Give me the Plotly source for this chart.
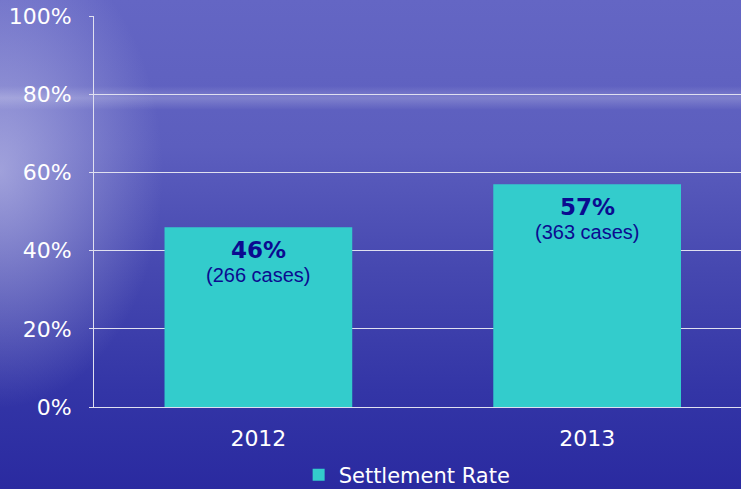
import base64
import plotly.graph_objects as go

# Data
years = ['2012', '2013']
settlement_rate = [46, 57]
cases = [266, 363]
y_ticks = [0, 20, 40, 60, 80, 100]

# Sky / sea background as an svg gradient
bg_svg = '''<svg xmlns="http://www.w3.org/2000/svg" width="741" height="489">
<defs>
<linearGradient id="g" x1="0" y1="0" x2="0" y2="1">
<stop offset="0" stop-color="#6466c4"/>
<stop offset="0.3" stop-color="#5c5ebe"/>
<stop offset="0.55" stop-color="#4648b0"/>
<stop offset="0.8" stop-color="#3335a6"/>
<stop offset="1" stop-color="#2a2aa0"/>
</linearGradient>
<radialGradient id="r" cx="0" cy="0.35" r="0.22" gradientTransform="translate(0,0.35) scale(1,2.2) translate(0,-0.35)">
<stop offset="0" stop-color="#d0d0f0" stop-opacity="0.6"/>
<stop offset="1" stop-color="#d0d0f0" stop-opacity="0"/>
</radialGradient>
<linearGradient id="h" x1="0" y1="0" x2="0" y2="1">
<stop offset="0" stop-color="#ffffff" stop-opacity="0"/>
<stop offset="0.5" stop-color="#ffffff" stop-opacity="0.2"/>
<stop offset="1" stop-color="#ffffff" stop-opacity="0"/>
</linearGradient>
</defs>
<rect width="741" height="489" fill="url(#g)"/>
<rect width="741" height="489" fill="url(#r)"/>
<rect y="86" width="741" height="24" fill="url(#h)"/>
</svg>'''
bg_uri = 'data:image/svg+xml;base64,' + base64.b64encode(bg_svg.encode()).decode()

fig = go.Figure(go.Bar(
    x=years,
    y=settlement_rate,
    name='Settlement Rate',
    marker=dict(color='#33cccc', line=dict(width=0)),
    width=0.571,
    showlegend=True,
))

for i, (rate, n) in enumerate(zip(settlement_rate, cases)):
    fig.add_annotation(x=i, y=rate, text=f'<b>{rate}%</b>', showarrow=False,
                       yanchor='middle', yshift=-23,
                       font=dict(family='DejaVu Sans', size=23, color='#0b0b90'))
    fig.add_annotation(x=i, y=rate, text=f'({n} cases)', showarrow=False,
                       yanchor='middle', yshift=-48,
                       font=dict(family='Liberation Sans', size=20, color='#0b0b90'))

fig.update_layout(
    width=741, height=489,
    margin=dict(l=94, r=0, t=16, b=82, autoexpand=False),
    paper_bgcolor='#2a2aa0',
    plot_bgcolor='rgba(0,0,0,0)',
    font=dict(family='DejaVu Sans', color='white'),
    images=[dict(source=bg_uri, xref='paper', yref='paper', x=-94/647, y=1 + 16/391,
                 sizex=741/647, sizey=489/391, sizing='stretch', layer='below',
                 xanchor='left', yanchor='top')],
    xaxis=dict(type='category', range=[-0.5, 1.468], showgrid=False, showline=True,
               linecolor='#e0e0f0', linewidth=1, ticks='', ticklabelstandoff=12,
               tickfont=dict(size=22, color='white')),
    yaxis=dict(range=[0, 100], tickvals=y_ticks, ticktext=[f'{v}%' for v in y_ticks],
               showgrid=True, gridcolor='#e0e0f0', gridwidth=1, showline=True,
               linecolor='#e0e0f0', ticks='outside', ticklen=4, tickcolor='#e0e0f0',
               ticklabelstandoff=13, tickfont=dict(size=22, color='white'),
               zeroline=False),
    legend=dict(orientation='h', x=0.484, xanchor='center', y=-0.174, yanchor='middle',
                font=dict(size=21, color='white'), bgcolor='rgba(0,0,0,0)'),
)

fig.write_html('out.html', config={'displayModeBar': False},
               post_script="document.body.style.margin='0';")
